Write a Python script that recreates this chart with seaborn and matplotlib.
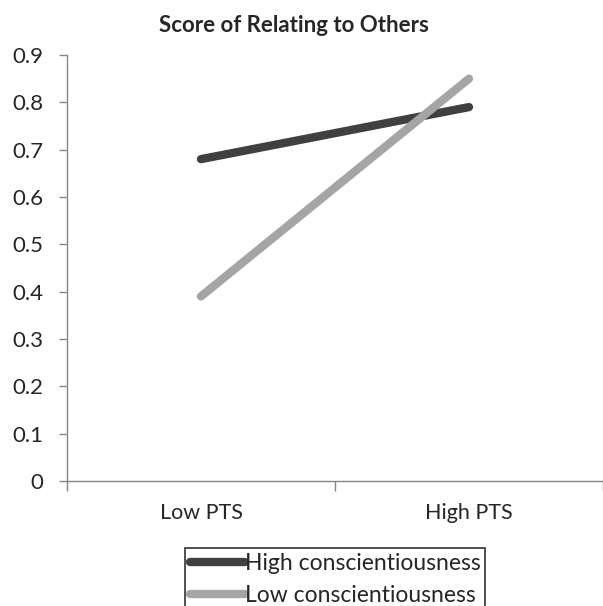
import pandas as pd
import matplotlib.pyplot as plt
import seaborn as sns

categories = ["Low PTS", "High PTS"]
high_consc = [0.68, 0.79]
low_consc = [0.39, 0.85]
series_names = ["High conscientiousness", "Low conscientiousness"]
y_ticks = [0, 0.1, 0.2, 0.3, 0.4, 0.5, 0.6, 0.7, 0.8, 0.9]

df = pd.DataFrame({
    "PTS": categories * 2,
    "score": high_consc + low_consc,
    "group": [series_names[0]] * 2 + [series_names[1]] * 2,
})

sns.set_style("white")
plt.rcParams["font.family"] = ["Lato", "DejaVu Sans"]

fig = plt.figure(figsize=(6.03, 6.06), dpi=100)
ax = fig.add_axes([0.111, 0.2063, 0.889, 0.7029])

sns.lineplot(
    data=df, x="PTS", y="score", hue="group", sort=False,
    palette={series_names[0]: "#404040", series_names[1]: "#a5a5a5"},
    linewidth=6, solid_capstyle="round", ax=ax,
)

ax.set_xlim(-0.5, 1.5)
ax.set_ylim(0, 0.9)
ax.set_yticks(y_ticks)
ax.set_yticklabels(["0" if v == 0 else f"{v:.1f}" for v in y_ticks])
ax.set_xticks([0, 1])
ax.set_xticklabels(categories)
ax.set_xticks([-0.5, 0.5, 1.5], minor=True)
ax.tick_params(axis="x", which="major", bottom=True, length=0, pad=16, labelsize=15.5)
ax.tick_params(axis="x", which="minor", bottom=True, length=7, width=1, color="#868686", direction="out")
ax.tick_params(axis="y", left=True, length=6, width=1, color="#868686", direction="out", labelsize=16, pad=11)
ax.set_xlabel("")
ax.set_ylabel("")

for side in ["top", "right"]:
    ax.spines[side].set_visible(False)
for side in ["left", "bottom"]:
    ax.spines[side].set_color("#868686")
    ax.spines[side].set_linewidth(1)

fig.text(0.488, 0.947, "Score of Relating to Others", fontsize=16, fontweight="bold",
         ha="center", va="baseline")

leg = ax.legend(
    loc="upper center", bbox_to_anchor=(0.5, -0.131), frameon=True,
    fancybox=False, edgecolor="black", fontsize=16.5, handlelength=2.4,
    handletextpad=0.0, borderpad=0.2, labelspacing=0.5,
)
leg.get_frame().set_linewidth(1.2)

plt.savefig("out.png")
plt.close()
